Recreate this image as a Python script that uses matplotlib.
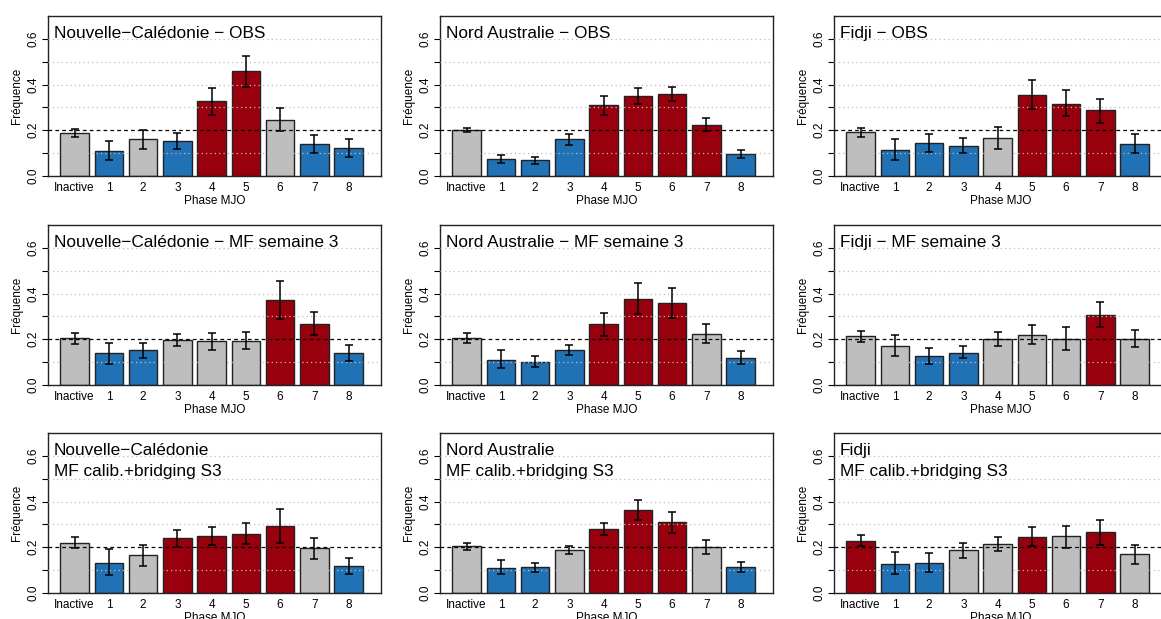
#!/usr/bin/env python3
# -*- coding: utf-8 -*-
"""
Frequence des phases MJO - OBS / MF semaine 3 / MF calib.+bridging S3
"""

import numpy as np
import matplotlib
matplotlib.use("Agg")
import matplotlib.pyplot as plt

plt.rcParams['font.family'] = ['Liberation Sans', 'DejaVu Sans']

phases = ["Inactive", "1", "2", "3", "4", "5", "6", "7", "8"]

titles = [
    "Nouvelle\u2212Calédonie \u2212 OBS",
    "Nord Australie \u2212 OBS",
    "Fidji \u2212 OBS",
    "Nouvelle\u2212Calédonie \u2212 MF semaine 3",
    "Nord Australie \u2212 MF semaine 3",
    "Fidji \u2212 MF semaine 3",
    "Nouvelle\u2212Calédonie\nMF calib.+bridging S3",
    "Nord Australie\nMF calib.+bridging S3",
    "Fidji\nMF calib.+bridging S3",
]

# frequences
freq_nc_obs = [0.186, 0.110, 0.161, 0.152, 0.326, 0.458, 0.247, 0.139, 0.124]
freq_na_obs = [0.202, 0.075, 0.070, 0.160, 0.310, 0.351, 0.359, 0.225, 0.097]
freq_fj_obs = [0.192, 0.114, 0.143, 0.133, 0.167, 0.356, 0.316, 0.287, 0.142]
freq_nc_s3 = [0.204, 0.138, 0.153, 0.197, 0.191, 0.194, 0.373, 0.268, 0.139]
freq_na_s3 = [0.205, 0.111, 0.101, 0.154, 0.266, 0.377, 0.359, 0.224, 0.119]
freq_fj_s3 = [0.213, 0.172, 0.129, 0.142, 0.201, 0.220, 0.201, 0.307, 0.201]
freq_nc_cb = [0.220, 0.132, 0.167, 0.239, 0.251, 0.260, 0.292, 0.197, 0.116]
freq_na_cb = [0.205, 0.111, 0.113, 0.189, 0.282, 0.364, 0.310, 0.202, 0.114]
freq_fj_cb = [0.229, 0.129, 0.133, 0.186, 0.214, 0.246, 0.248, 0.266, 0.169]

# bornes basses / hautes des intervalles
low_nc_obs = [0.171, 0.072, 0.120, 0.120, 0.269, 0.388, 0.196, 0.102, 0.083]
upp_nc_obs = [0.204, 0.154, 0.200, 0.189, 0.387, 0.524, 0.299, 0.179, 0.164]
low_na_obs = [0.192, 0.057, 0.054, 0.135, 0.269, 0.313, 0.326, 0.199, 0.079]
upp_na_obs = [0.211, 0.092, 0.085, 0.183, 0.351, 0.387, 0.391, 0.252, 0.114]
low_fj_obs = [0.171, 0.072, 0.105, 0.100, 0.120, 0.291, 0.261, 0.233, 0.101]
upp_fj_obs = [0.212, 0.162, 0.184, 0.167, 0.214, 0.422, 0.375, 0.338, 0.184]
low_nc_s3 = [0.179, 0.091, 0.120, 0.170, 0.155, 0.157, 0.288, 0.219, 0.107]
upp_nc_s3 = [0.227, 0.183, 0.185, 0.223, 0.227, 0.230, 0.456, 0.320, 0.173]
low_na_s3 = [0.182, 0.073, 0.078, 0.132, 0.216, 0.310, 0.295, 0.185, 0.092]
upp_na_s3 = [0.227, 0.155, 0.125, 0.175, 0.314, 0.447, 0.425, 0.267, 0.148]
low_fj_s3 = [0.189, 0.126, 0.094, 0.116, 0.170, 0.179, 0.154, 0.252, 0.166]
upp_fj_s3 = [0.238, 0.217, 0.164, 0.170, 0.232, 0.264, 0.252, 0.362, 0.239]
low_nc_cb = [0.195, 0.078, 0.120, 0.202, 0.211, 0.216, 0.219, 0.147, 0.084]
upp_nc_cb = [0.245, 0.194, 0.211, 0.277, 0.289, 0.307, 0.368, 0.241, 0.153]
low_na_cb = [0.186, 0.082, 0.092, 0.172, 0.254, 0.321, 0.264, 0.172, 0.094]
upp_na_cb = [0.220, 0.144, 0.131, 0.205, 0.308, 0.406, 0.356, 0.233, 0.135]
low_fj_cb = [0.204, 0.081, 0.094, 0.155, 0.182, 0.204, 0.199, 0.211, 0.125]
upp_fj_cb = [0.254, 0.179, 0.176, 0.219, 0.246, 0.289, 0.295, 0.318, 0.211]

# signe de l'anomalie : r = au dessus, b = en dessous, g = non significatif
sig_nc_obs = "gbgbrrgbb"
sig_na_obs = "gbbbrrrrb"
sig_fj_obs = "gbbbgrrrb"
sig_nc_s3 = "gbbgggrrb"
sig_na_s3 = "gbbbrrrgb"
sig_fj_s3 = "ggbbgggrg"
sig_nc_cb = "gbgrrrrgb"
sig_na_cb = "gbbgrrrgb"
sig_fj_cb = "rbbggrgrg"

freqs = [freq_nc_obs, freq_na_obs, freq_fj_obs,
         freq_nc_s3, freq_na_s3, freq_fj_s3,
         freq_nc_cb, freq_na_cb, freq_fj_cb]
lows = [low_nc_obs, low_na_obs, low_fj_obs,
        low_nc_s3, low_na_s3, low_fj_s3,
        low_nc_cb, low_na_cb, low_fj_cb]
upps = [upp_nc_obs, upp_na_obs, upp_fj_obs,
        upp_nc_s3, upp_na_s3, upp_fj_s3,
        upp_nc_cb, upp_na_cb, upp_fj_cb]
sigs = [sig_nc_obs, sig_na_obs, sig_fj_obs,
        sig_nc_s3, sig_na_s3, sig_fj_s3,
        sig_nc_cb, sig_na_cb, sig_fj_cb]

colmap = {"g": "#BEBEBE", "b": "#2171B5", "r": "#99000D"}

W, H = 1161., 619.
fig = plt.figure(figsize=(W/100, H/100), dpi=100)

col_left = [48, 440, 834]
row_top = [16, 225, 433]
ax_w, ax_h = 333, 160

# positions style barplot R (width 1, space 0.2)
xpos = 0.7 + 1.2*np.arange(len(phases))
xmin, xmax = 0.2, 0.2 + 1.2*len(phases)
pad = 0.04*(xmax - xmin)

for k in range(9):
    r, c = divmod(k, 3)
    ax = fig.add_axes([col_left[c]/W, 1 - (row_top[r] + ax_h)/H, ax_w/W, ax_h/H])

    f = np.array(freqs[k])
    lo = f - np.array(lows[k])
    hi = np.array(upps[k]) - f
    colors = [colmap[s] for s in sigs[k]]

    ax.bar(xpos, f, width=1.0, color=colors, edgecolor="#222222",
           linewidth=1.0, zorder=2)
    for yy in [0.1, 0.3, 0.4, 0.5, 0.6]:
        ax.axhline(yy, color="#BEBEBE", ls=(0, (1, 2.5)), lw=0.9, zorder=3)
    ax.axhline(0.2, color="black", ls=(0, (3, 2.5)), lw=0.9, zorder=3)
    ax.errorbar(xpos, f, yerr=[lo, hi], fmt="none", ecolor="black",
                elinewidth=1.1, capsize=3, capthick=1.1, zorder=4)

    ax.set_xlim(xmin - pad, xmax + pad)
    ax.set_ylim(0, 0.7)
    ax.set_xticks(xpos)
    ax.set_xticklabels(phases, fontsize=8.5)
    ax.tick_params(axis="x", length=0, pad=4)
    ax.set_yticks(np.arange(0, 0.61, 0.1))
    ax.set_yticklabels(["0.0", "", "0.2", "", "0.4", "", "0.6"],
                       fontsize=8.5, rotation=90, va="center")
    ax.tick_params(axis="y", length=4, width=0.8, pad=2)
    ax.set_xlabel("Phase MJO", fontsize=8.5, labelpad=1)
    ax.set_ylabel("Fréquence", fontsize=8.5, labelpad=3)
    for sp in ax.spines.values():
        sp.set_color("#222222")
        sp.set_linewidth(1.0)

    ax.text(6/ax_w, 1 - 10/ax_h, titles[k], transform=ax.transAxes,
            fontsize=12.4, va="top", ha="left", linespacing=1.5, zorder=5)

fig.savefig("out.png", dpi=100)
